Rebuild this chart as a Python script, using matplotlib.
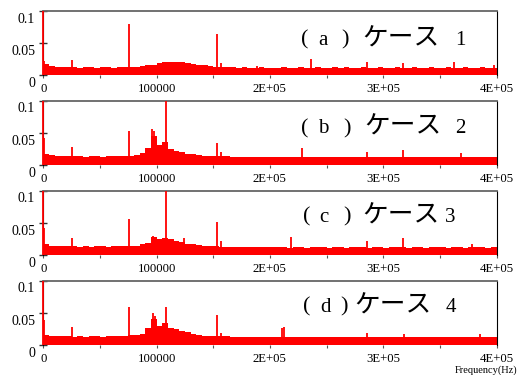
import numpy as np
import matplotlib.pyplot as plt
from matplotlib.transforms import ScaledTranslation

plt.rcParams['font.family'] = ['Liberation Serif', 'Noto Sans CJK JP']

# spectrum floor in 5 kHz bins (values in units of 1e-3)
freqs = np.arange(0, 405000, 5000)

floor_a = [17, 14, 13, 12,
           12, 12, 11, 12, 12, 11, 12, 12, 11, 12, 12, 13,
           13, 14, 15, 16, 18, 20, 21, 20, 21, 19, 17, 16, 15,
           14, 13, 13, 12, 12, 11, 12, 11, 11, 12, 11, 11,
           11, 12, 11, 11, 12, 11, 11, 12, 11, 11, 12, 11, 12, 11, 11, 12, 11, 11, 12, 11,
           11, 12, 11, 11, 12, 11, 11, 12, 11, 11, 12, 11, 11, 12, 11, 11, 12, 11, 11, 11]
floor_b = [16, 15, 14, 14,
           13, 13, 13, 12, 13, 13, 12, 13, 13, 14, 14, 14,
           15, 18, 26, 44, 31, 35, 24, 21, 19, 17, 16, 15, 14,
           14, 13, 13, 13, 12, 12, 12, 12, 12, 11, 12, 12,
           12, 11, 12, 12, 11, 12, 11, 12, 12, 11, 12, 11, 12, 12, 11, 12, 11, 12, 11, 12,
           12, 11, 12, 11, 12, 12, 11, 12, 11, 12, 12, 11, 12, 11, 12, 12, 11, 12, 11, 11]
floor_c = [16, 14, 14, 13,
           13, 13, 12, 13, 12, 13, 13, 12, 13, 13, 14, 14,
           14, 16, 18, 27, 24, 26, 25, 21, 19, 17, 16, 15, 14,
           13, 13, 12, 12, 12, 12, 11, 12, 11, 11, 12, 11,
           11, 11, 10, 11, 11, 10, 11, 11, 11, 10, 11, 11, 10, 11, 11, 11, 10, 11, 11, 10,
           11, 11, 11, 10, 11, 11, 10, 11, 11, 11, 10, 11, 11, 10, 11, 11, 11, 10, 11, 11]
floor_d = [15, 14, 13, 13,
           13, 12, 13, 12, 13, 13, 12, 13, 13, 14, 14, 15,
           15, 17, 26, 40, 29, 33, 26, 24, 21, 19, 16, 15, 14,
           14, 13, 13, 13, 12, 12, 12, 12, 12, 12, 12, 12,
           12, 11, 12, 12, 11, 12, 11, 12, 12, 11, 12, 11, 12, 12, 11, 12, 11, 12, 11, 12,
           12, 11, 12, 11, 12, 12, 11, 12, 11, 12, 12, 11, 12, 11, 12, 12, 11, 12, 11, 11]

# narrow peaks: frequency (Hz) and height (1e-3)
peak_f_a = [0, 1000, 25000, 76000, 153000, 157000, 189000, 236000, 285500, 317000, 362000, 398000]
peak_v_a = [100, 22, 24, 79, 64, 19, 14, 25, 20, 18, 20, 16]
peak_f_b = [0, 1000, 25000, 76000, 96000, 97500, 108500, 153000, 157000, 228000, 285500, 317500, 369000]
peak_v_b = [100, 42, 28, 52, 55, 53, 100, 34, 20, 26, 20, 22, 18]
peak_f_c = [0, 1000, 25000, 76000, 97000, 108500, 124000, 153000, 157000, 219000, 285500, 317500, 378000]
peak_v_c = [100, 42, 26, 56, 29, 100, 26, 51, 21, 27, 21, 26, 17]
peak_f_d = [0, 1000, 25000, 76000, 97000, 98500, 108500, 122000, 153000, 157000, 211000, 212500, 285500, 318000, 385000]
peak_v_d = [100, 38, 27, 58, 49, 45, 58, 21, 46, 18, 26, 27, 18, 17, 17]

floors = [floor_a, floor_b, floor_c, floor_d]
peaks_f = [peak_f_a, peak_f_b, peak_f_c, peak_f_d]
peaks_v = [peak_v_a, peak_v_b, peak_v_c, peak_v_d]

# panel captions, split as: "(", letter, ")", "ケース", number
case_letters = ['a', 'b', 'c', 'd']
case_numbers = ['1', '2', '3', '4']
case_word = 'ケース'
# x positions (axes fraction) of each caption piece, and baseline height
cap_x = [[0.577, 0.6176, 0.6654, 0.7885, 0.9207],
         [0.5765, 0.6176, 0.6692, 0.794, 0.919],
         [0.581, 0.619, 0.671, 0.7885, 0.897],
         [0.581, 0.623, 0.663, 0.772, 0.899]]
cap_y = [0.475, 0.49, 0.51, 0.51]

xticks = [0, 100000, 200000, 300000, 400000]
xticklabels = ['0', '100000', '2E+05', '3E+05', '4E+05']
yticks = [0, 0.05, 0.1]
yticklabels = ['0', '0.05', '0.1']

fig = plt.figure(figsize=(5.21, 3.75), dpi=100)
bottoms = [0.8, 0.5613, 0.3213, 0.0813]
edges = np.append(freqs, 405000)

for i in range(4):
    ax = fig.add_axes([0.0831, bottoms[i], 0.870, 0.1707])
    ax.stairs(np.array(floors[i]) * 1e-3, edges, fill=True, color='red', lw=0)
    ax.vlines(peaks_f[i], 0, np.array(peaks_v[i]) * 1e-3, color='red', lw=1.3,
              zorder=3, clip_on=False)
    ax.set_xlim(0, 400000)
    ax.set_ylim(0, 0.1)

    ax.set_xticks(xticks)
    ax.set_xticklabels(xticklabels, fontsize=9.2)
    ax.set_xticks([50000, 150000, 250000, 350000], minor=True)
    ax.tick_params(axis='x', which='both', direction='out', length=2.5, width=0.8,
                   color='#555555', labelcolor='black', pad=3.4)
    ax.set_yticks(yticks)
    ax.set_yticklabels(yticklabels, fontsize=10)
    ax.tick_params(axis='y', direction='inout', length=6, width=1, color='#333333', pad=2.9)
    for lab in ax.get_yticklabels():
        lab.set_transform(lab.get_transform() + ScaledTranslation(0, -0.07, fig.dpi_scale_trans))

    ax.spines['bottom'].set_visible(False)
    ax.spines['top'].set_color('#666666')
    ax.spines['top'].set_linewidth(1.3)
    ax.spines['left'].set_color('black')
    ax.spines['right'].set_color('black')
    ax.spines['right'].set_linewidth(0.8)

    px = cap_x[i]
    y = cap_y[i]
    kw = dict(transform=ax.transAxes, ha='center', va='baseline')
    ax.text(px[0], y, '(', fontsize=16, **kw)
    ax.text(px[1], y, case_letters[i], fontsize=15, **kw)
    ax.text(px[2], y, ')', fontsize=16, **kw)
    ax.text(px[3], y - 0.01, case_word, fontsize=18.5, **kw)
    ax.text(px[4], y, case_numbers[i], fontsize=15, **kw)

fig.text(0.994, 0.012, 'Frequency(Hz)', ha='right', va='center', fontsize=7.5)

fig.savefig('out.png', dpi=100)
